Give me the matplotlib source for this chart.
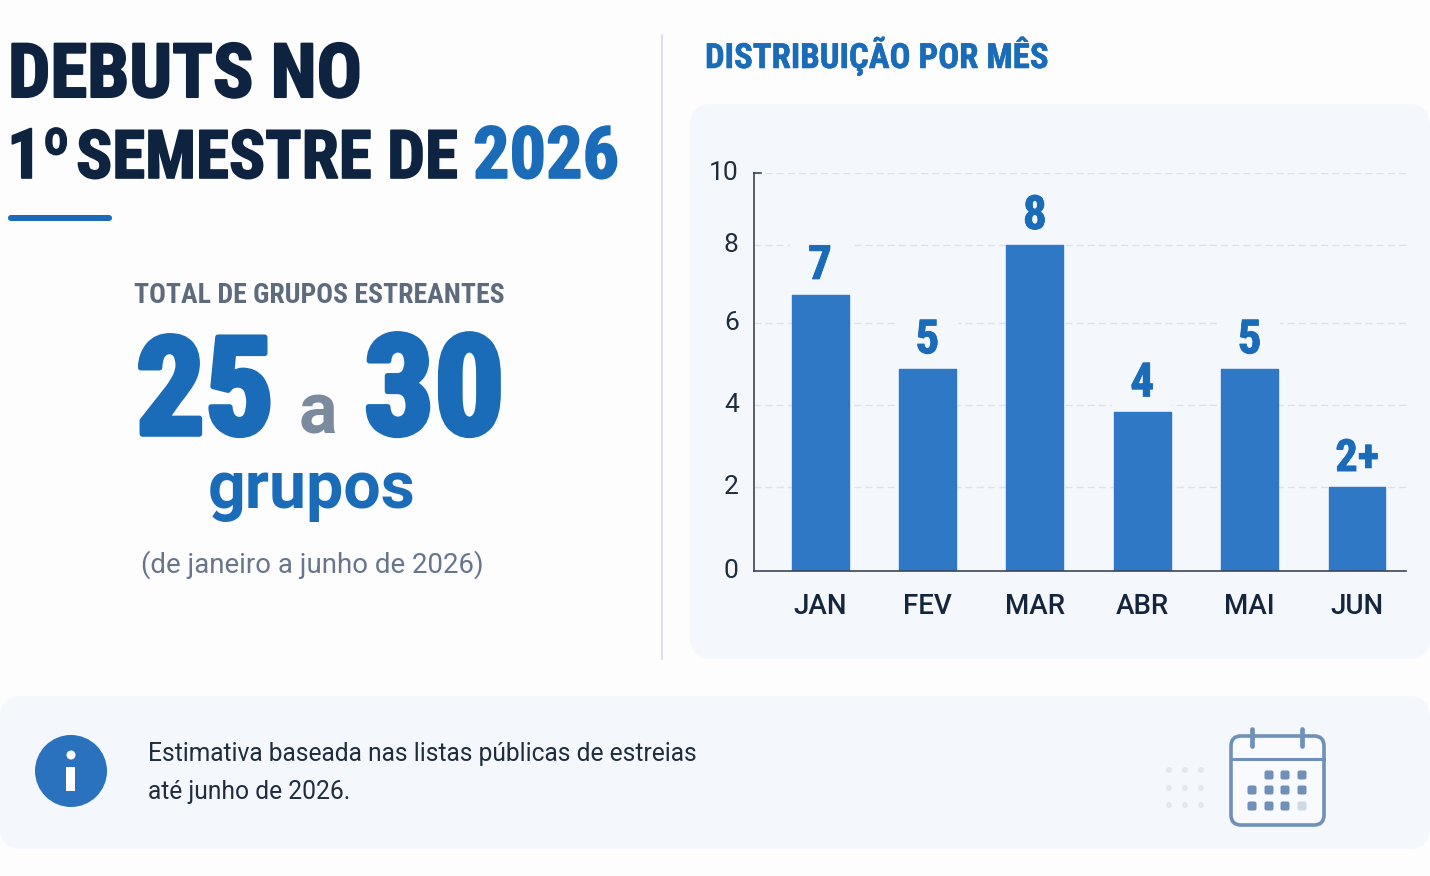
import numpy as np
import matplotlib
matplotlib.use("Agg")
import matplotlib.pyplot as plt
import matplotlib.patheffects as pe
from matplotlib.patches import FancyBboxPatch, Circle, Rectangle
from matplotlib.transforms import ScaledTranslation

months = ["JAN", "FEV", "MAR", "ABR", "MAI", "JUN"]
bar_values = [6.72, 4.87, 8.0, 3.82, 4.87, 2.0]
bar_labels = ["7", "5", "8", "4", "5", "2+"]
y_ticks = [0, 2, 4, 6, 8, 10]
# the axis in the picture is not evenly spaced, so keep the tick pixel rows
y_tick_rows = [571, 487, 405, 323, 245, 173]

DARK = "#0d2340"
BLUE = "#1a6bb8"
BAR = "#2f78c6"
PANEL = "#f4f7fc"
GRAY = "#5d6b7d"
FONT = "Roboto Condensed"
FONT_PLAIN = "Roboto"

W, H = 1430, 876
fig = plt.figure(figsize=(W / 100, H / 100), dpi=100, facecolor="#fdfdfe")

# page layer in pixel coordinates
bg = fig.add_axes([0, 0, 1, 1], zorder=0)
bg.set_xlim(0, W)
bg.set_ylim(H, 0)
bg.axis("off")


def panel(x0, y0, x1, y1, r, **kw):
    bg.add_patch(FancyBboxPatch((x0 + r, y0 + r), x1 - x0 - 2 * r, y1 - y0 - 2 * r,
                                boxstyle=f"round,pad={r},rounding_size={r}", **kw))


def label(x, y, s, size, color, weight="normal", family=FONT_PLAIN, ha="left", stroke=0):
    t = bg.text(x, y, s, fontsize=size, color=color, fontweight=weight, family=family,
                ha=ha, va="baseline")
    if stroke:
        t.set_path_effects([pe.withStroke(linewidth=stroke, foreground=color)])


panel(690, 104, 1430, 659, 22, fc=PANEL, ec="none")
panel(0, 696, 1430, 849, 22, fc=PANEL, ec="none")
bg.plot([661.5, 661.5], [35, 659], color="#d6dae1", lw=1.2)

# left column
label(8, 97, "DEBUTS NO", 54, DARK, "bold", FONT, stroke=1.5)
label(7, 178, "1º", 50, DARK, "bold", FONT, stroke=1.2)
label(76, 178, "SEMESTRE DE", 48.3, DARK, "bold", FONT, stroke=1.2)
label(473, 178, "2026", 52, BLUE, "bold", FONT, stroke=1.2)
panel(8, 215, 112, 221, 3, fc=BLUE, ec="none")

label(134, 303, "TOTAL DE GRUPOS ESTREANTES", 20, GRAY, "bold", FONT)
label(136, 434, "25", 98, BLUE, "bold", FONT, stroke=4)
label(299, 434, "a", 52, "#7b8a9c", "bold", FONT_PLAIN)
label(364, 434, "30", 100, BLUE, "bold", FONT, stroke=4)
label(208, 508, "grupos", 47.7, BLUE, "bold", FONT_PLAIN)
label(141, 573, "(de janeiro a junho de 2026)", 19.9, "#67768a")

label(705, 68, "DISTRIBUIÇÃO POR MÊS", 25, BLUE, "bold", FONT, stroke=0.4)

# bottom note
bg.add_patch(Circle((71, 771), 36, fc="#2a72bd", ec="none"))
bg.add_patch(Circle((71, 755), 4.5, fc="white", ec="none"))
bg.add_patch(Rectangle((66, 767), 9, 24, fc="white", ec="none"))
label(148, 761, "Estimativa baseada nas listas públicas de estreias", 17.75, "#1f2d3d")
label(148, 799, "até junho de 2026.", 17.75, "#1f2d3d")

# calendar icon
ICON = "#6f90b8"
for dx in [1169, 1185, 1201]:
    for dy in [770, 788, 805]:
        bg.add_patch(Circle((dx, dy), 3, fc="#e3e8f0", ec="none"))
panel(1231, 736, 1324, 825, 10, fc="#f8fafd", ec=ICON, lw=2.6)
bg.plot([1231, 1324], [759, 759], color=ICON, lw=2.2)
for rx in [1252, 1302]:
    bg.plot([rx, rx], [729, 746], color=ICON, lw=3.4, solid_capstyle="round")
cols = [1252, 1269, 1285, 1302]
for ry, row_cols in [(775, cols[1:]), (790, cols), (806, cols)]:
    for cx in row_cols:
        c = "#cfd9e6" if (ry == 806 and cx == 1302) else ICON
        panel(cx - 4.5, ry - 4.5, cx + 4.5, ry + 4.5, 2, fc=c, ec="none")

# chart, axes box is pixel rows 173..571 and columns 754..1406
ax = fig.add_axes([754 / W, 1 - 571 / H, (1406 - 754) / W, (571 - 173) / H], zorder=1)
ax.patch.set_alpha(0)
heights = [571 - r for r in y_tick_rows]
ax.set_yscale("function", functions=(lambda v: np.interp(v, y_ticks, heights, left=0, right=heights[-1]),
                                     lambda p: np.interp(p, heights, y_ticks)))
ax.set_ylim(0, 10)
ax.set_xlim(-0.615, 5.456)

x = np.arange(len(months))
ax.grid(axis="y", color="#dde2ea", linestyle=(0, (5, 3)), lw=1)
ax.set_axisbelow(True)
# gridlines stop above each bar where its number sits
ax.bar(x, 1.4, bottom=bar_values, width=0.56, color=PANEL, zorder=1.5)
bars = ax.bar(x, bar_values, width=0.53, color=BAR, edgecolor=BAR, linewidth=1, zorder=2)
for rect, text in zip(bars, bar_labels):
    rect.set_joinstyle("round")
    t = ax.annotate(text, (rect.get_x() + rect.get_width() / 2, rect.get_height()),
                    xytext=(0, 11.5), textcoords="offset points", ha="center", va="baseline",
                    fontsize=32 if text == "2+" else 34, fontweight="bold", color=BLUE, family=FONT,
                    zorder=3)
    t.set_path_effects([pe.withStroke(linewidth=0.6, foreground=BLUE)])

for side in ["top", "right"]:
    ax.spines[side].set_visible(False)
for side in ["left", "bottom"]:
    ax.spines[side].set_color("#3a4656")
    ax.spines[side].set_linewidth(1.2)
    ax.spines[side].set_zorder(4)
ax.plot([-0.615, -0.55], [10, 10], color="#3a4656", lw=1.2, clip_on=False)

ax.set_yticks(y_ticks)
ax.set_xticks(x, months)
ax.tick_params(axis="y", length=0, pad=11, labelsize=19, labelcolor="#1f2d3d")
ax.tick_params(axis="x", length=0, pad=16, labelsize=20, labelcolor="#14263d")
up = ScaledTranslation(0, 1.5 / 72, fig.dpi_scale_trans)
for t in ax.get_yticklabels():
    t.set_family(FONT_PLAIN)
    t.set_transform(t.get_transform() + up)
for t in ax.get_xticklabels():
    t.set_family(FONT_PLAIN)
    t.set_fontweight("medium")

fig.savefig("out.png", dpi=100, facecolor=fig.get_facecolor())
